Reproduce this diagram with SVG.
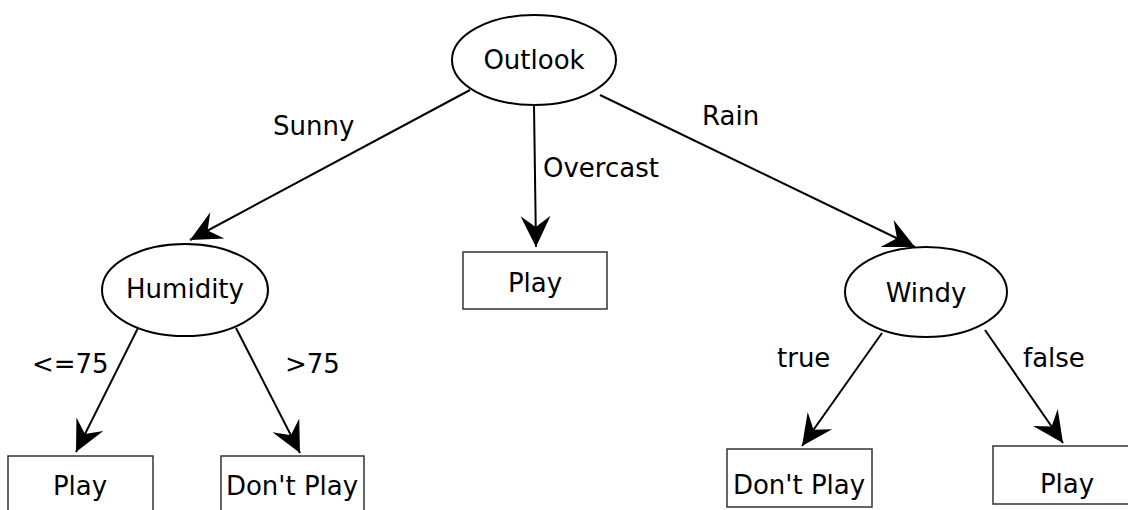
<svg xmlns="http://www.w3.org/2000/svg" width="1128" height="510" viewBox="0 0 1128 510">
<style>
text{font-family:"DejaVu Sans","Liberation Sans",sans-serif;font-size:26px;fill:#000}
.c{text-anchor:middle}
.e{fill:#fff;stroke:#000;stroke-width:2}
.r{fill:#fff;stroke:#333;stroke-width:1.5}
.l{stroke:#000;stroke-width:2;fill:none;marker-end:url(#ah)}
</style>
<defs>
<marker id="ah" markerUnits="userSpaceOnUse" viewBox="-34 -17 36 34" refX="0" refY="0" markerWidth="36" markerHeight="34" orient="auto" overflow="visible">
<path d="M0,0 L-31,-15 L-20,0 L-31,15 Z" fill="#000"/>
</marker>
</defs>
<rect width="1128" height="510" fill="#fff"/>
<g id="connectors">
<line class="l" x1="470" y1="90" x2="190" y2="240"/>
<line class="l" x1="534" y1="105" x2="536" y2="247"/>
<line class="l" x1="600" y1="95" x2="915" y2="247"/>
<line class="l" x1="138" y1="328" x2="76" y2="452"/>
<line class="l" x1="236" y1="328" x2="300" y2="453"/>
<line class="l" x1="882" y1="333" x2="802" y2="446"/>
<line class="l" x1="985" y1="330" x2="1063" y2="443"/>
<text x="273" y="135">Sunny</text>
<text x="543" y="177">Overcast</text>
<text x="702" y="125">Rain</text>
<text x="32" y="373">&lt;=75</text>
<text x="285" y="373">&gt;75</text>
<text x="777" y="367">true</text>
<text x="1023" y="367">false</text>
</g>
<g id="outlook"><ellipse class="e" cx="534" cy="60" rx="82" ry="45"/><text class="c" x="534" y="69">Outlook</text></g>
<g id="humidity"><ellipse class="e" cx="185" cy="290" rx="83" ry="46"/><text class="c" x="185" y="298">Humidity</text></g>
<g id="windy"><ellipse class="e" cx="926" cy="292" rx="81" ry="45"/><text class="c" x="926" y="302">Windy</text></g>
<g id="play-overcast"><rect class="r" x="463" y="252" width="144" height="57"/><text class="c" x="535" y="292">Play</text></g>
<g id="play-low"><rect class="r" x="8" y="456" width="145" height="57"/><text class="c" x="80" y="495">Play</text></g>
<g id="dontplay-high"><rect class="r" x="221" y="456" width="143" height="57"/><text class="c" x="292" y="495">Don't Play</text></g>
<g id="dontplay-windy"><rect class="r" x="727" y="449" width="145" height="58"/><text class="c" x="799" y="494">Don't Play</text></g>
<g id="play-calm"><rect class="r" x="993" y="446" width="140" height="58"/><text class="c" x="1067" y="493">Play</text></g>
</svg>
